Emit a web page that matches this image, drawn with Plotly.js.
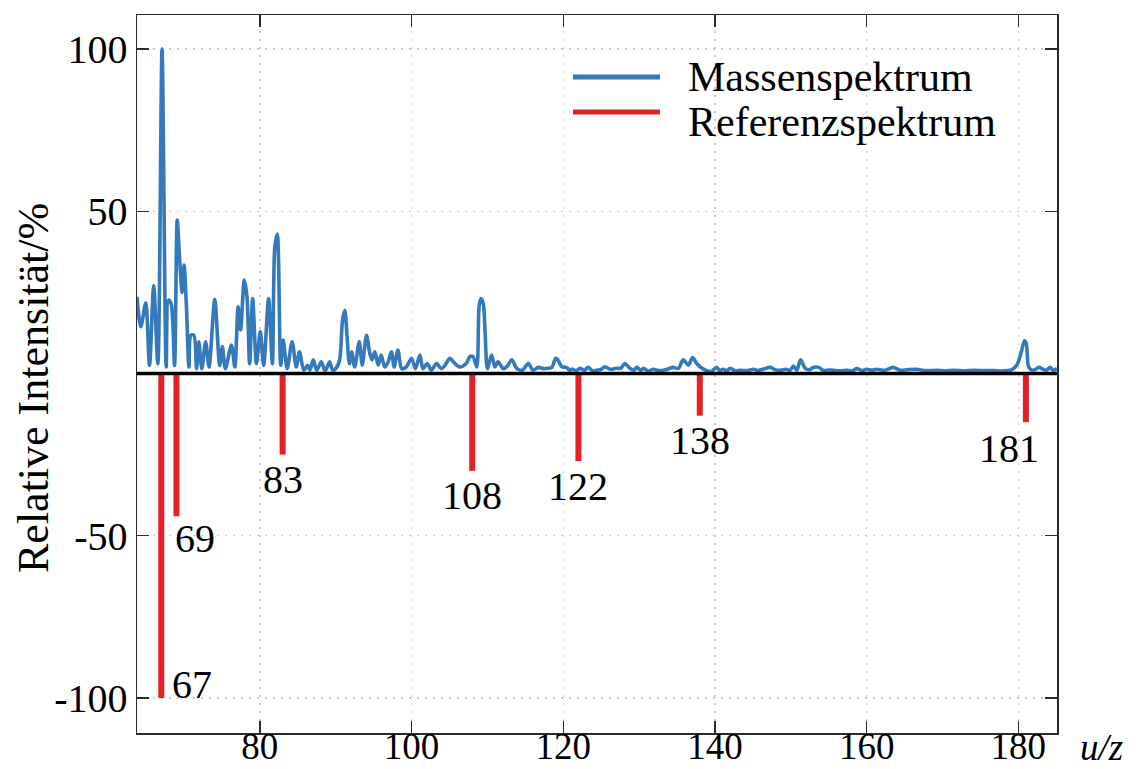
<!DOCTYPE html>
<html>
<head>
<meta charset="utf-8">
<script src="https://cdn.plot.ly/plotly-3.0.1.min.js"></script>
<style>
  html, body { margin: 0; padding: 0; background: #ffffff; }
  #chart { width: 1140px; height: 769px; }
</style>
</head>
<body>
<div id="chart"></div>
<script>
// Measured mass spectrum (m/z, relative intensity in %)
const mz = [
  63.8, 64.3, 64.95, 65.45, 66.0, 66.55, 67.1, 67.65, 67.95, 68.3,
  68.75, 69.1, 69.45, 69.75, 70.0, 70.3, 70.65, 70.9, 71.3, 71.65,
  71.95, 72.35, 72.85, 73.3, 74.05, 74.7, 75.05, 75.45, 76.25, 76.7,
  77.13, 77.45, 77.95, 78.3, 78.65, 79.05, 79.55, 80.05, 80.5, 81.15,
  81.65, 81.97, 82.3, 82.75, 83.07, 83.6, 84.25, 84.8, 85.22, 85.8,
  86.3, 86.6, 87.03, 87.5, 88.1, 88.6, 89.2, 89.6, 90.0, 90.5,
  90.9, 91.2, 91.5, 91.8, 92.1, 92.5, 93.1, 93.5, 94.06, 94.5,
  94.8, 95.16, 95.6, 96.0, 96.45, 96.9, 97.35, 97.7, 98.2, 98.7,
  99.3, 100.0, 100.5, 101.1, 101.5, 102.06, 102.6, 103.3, 103.9, 104.4,
  105.05, 105.7, 106.4, 107.2, 107.7, 108.1, 108.6, 108.9, 109.14, 109.45,
  109.7, 110.0, 110.55, 111.0, 111.4, 112.1, 112.6, 113.2, 113.9, 114.6,
  115.4, 116.0, 116.7, 117.4, 118.0, 118.5, 119.0, 119.3, 119.8, 120.4,
  120.9, 121.2, 121.7, 122.2, 122.8, 123.3, 123.9, 124.4, 125.0, 125.5,
  126.2, 127.0, 127.6, 128.1, 128.8, 129.3, 129.7, 130.2, 130.6, 131.2,
  131.9, 132.5, 133.2, 133.9, 134.5, 135.2, 135.8, 136.5, 137.05, 137.6,
  138.3, 138.9, 139.5, 140.2, 140.6, 141.1, 141.6, 142.0, 142.7, 143.3,
  144.2, 145.1, 145.6, 146.3, 147.3, 147.9, 148.6, 149.4, 149.9, 150.35,
  150.8, 151.3, 151.9, 152.5, 153.0, 153.7, 154.3, 155.0, 155.6, 156.5,
  157.4, 158.1, 158.7, 159.4, 160.0, 160.7, 161.3, 162.4, 163.5, 164.4,
  165.5, 166.6, 167.8, 169.3, 170.4, 171.5, 172.8, 174.1, 175.4, 176.8,
  178.0, 179.0, 179.8, 180.4, 180.8, 181.05, 181.35, 181.8, 182.2, 182.7,
  183.3, 183.7, 184.2, 184.6, 185.1
];
const intensity = [
  23.6, 14.4, 21.7, 2.5, 27.0, 3.0, 100, 2.0, 22.6, 21.5,
  2.5, 47.3, 34, 25, 33.4, 21.6, 2.0, 11.8, 11.8, 1.5,
  9.8, 1.5, 9.8, 2.0, 22.8, 2.5, 8.3, 1.5, 8.8, 2.0,
  20.6, 13.4, 28.8, 23.6, 3.0, 23.1, 3.0, 12.9, 2.5, 23.1,
  3.0, 39, 43, 2.5, 10.3, 1.5, 9.8, 2.0, 6.7, 1.0,
  2.5, 1.0, 4.2, 1.0, 3.6, 0.8, 3.6, 1.0, 1.5, 4.0,
  16.5, 19.5, 11.3, 3.0, 6.7, 2.0, 9.8, 2.6, 11.8, 6.2,
  4.2, 6.7, 2.6, 5.7, 2.0, 3.5, 6.7, 2.0, 7.2, 1.5,
  2.0, 4.7, 1.5, 5.7, 1.5, 3.1, 1.0, 3.1, 1.5, 2.5,
  4.7, 3.1, 2.0, 3.1, 5.2, 5.2, 2.0, 20.6, 23.1, 21.6,
  12.4, 1.5, 5.7, 2.0, 3.6, 1.5, 2.2, 4.2, 1.5, 1.0,
  3.1, 1.0, 1.9, 1.5, 1.6, 1.9, 4.7, 4.2, 2.1, 1.9,
  1.0, 1.4, 0.8, 1.6, 1.0, 1.9, 0.8, 1.0, 1.3, 2.1,
  1.3, 1.6, 1.6, 3.1, 1.6, 1.0, 1.9, 1.0, 1.6, 0.8,
  1.3, 0.9, 1.0, 1.5, 1.9, 1.6, 4.2, 2.6, 4.9, 3.1,
  1.6, 0.9, 0.6, 1.9, 1.0, 1.3, 0.8, 1.6, 0.8, 1.0,
  0.9, 1.3, 0.9, 1.3, 1.9, 1.2, 1.0, 1.3, 1.0, 2.3,
  1.0, 4.2, 1.6, 1.2, 1.9, 1.9, 0.9, 1.1, 1.0, 0.8,
  1.0, 0.8, 1.5, 0.9, 1.3, 1.0, 1.3, 1.0, 1.9, 1.0,
  1.2, 1.3, 0.9, 1.0, 0.8, 1.0, 0.8, 1.0, 0.9, 0.9,
  0.8, 1.0, 2.6, 6.7, 10.1, 9.3, 2.1, 1.0, 1.2, 1.9,
  1.3, 1.0, 1.9, 1.0, 1.5
];

// Reference spectrum lines (m/z and relative intensity in %), drawn downwards
const refMz = [67, 69, 83, 108, 122, 138, 181];
const refIntensity = [100, 44, 25, 30, 27, 13, 15];

// Axis ticks
const xTicks = [80, 100, 120, 140, 160, 180];
const yTicks = [-100, -50, 50, 100];
const yTickText = ['-100', '-50', '50', '100'];

const seriesNames = ['Massenspektrum', 'Referenzspektrum'];

const BLUE = '#3479bb';
const RED = '#e41f26';
const FONT = 'Liberation Serif';

// Stick lines for the reference spectrum: 0 -> -intensity per peak
const stickX = [];
const stickY = [];
refMz.forEach((m, i) => {
  stickX.push(m, m, null);
  stickY.push(0, -refIntensity[i], null);
});

const traces = [
  {
    x: mz, y: intensity, type: 'scatter', mode: 'lines',
    name: seriesNames[0],
    line: { color: BLUE, width: 3.6, shape: 'spline', smoothing: 0.8 },
    hoverinfo: 'x+y', showlegend: false
  },
  {
    x: stickX, y: stickY, type: 'scatter', mode: 'lines',
    name: seriesNames[1],
    line: { color: RED, width: 6 },
    connectgaps: false, showlegend: false
  }
];

// Peak labels for the reference lines
const labelStyle = {
  67:  { xanchor: 'left',   yanchor: 'middle', xshift: 9,   yshift: 13 },
  69:  { xanchor: 'left',   yanchor: 'middle', xshift: -3,  yshift: -22 },
  181: { xanchor: 'center', yanchor: 'middle', xshift: -17, yshift: -26 }
};
const annotations = refMz.map((m, i) => {
  const s = labelStyle[m] || { xanchor: 'center', yanchor: 'middle', xshift: 0, yshift: -25 };
  return {
    x: m, y: -refIntensity[i], xref: 'x', yref: 'y',
    text: String(m), showarrow: false,
    xanchor: s.xanchor, yanchor: s.yanchor, xshift: s.xshift, yshift: s.yshift,
    font: { family: FONT, size: 40, color: '#000' }
  };
});

// Legend text
annotations.push(
  { xref: 'paper', yref: 'paper', x: 0.5967, y: 0.9136, xanchor: 'left', yanchor: 'middle',
    text: seriesNames[0], showarrow: false, font: { family: FONT, size: 42, color: '#000' } },
  { xref: 'paper', yref: 'paper', x: 0.5967, y: 0.851, xanchor: 'left', yanchor: 'middle',
    text: seriesNames[1], showarrow: false, font: { family: FONT, size: 42, color: '#000' } }
);

// x-axis label to the right of the axis
annotations.push({
  xref: 'paper', yref: 'paper', x: 1, y: 0, xanchor: 'left', yanchor: 'middle',
  xshift: 21, yshift: -14, text: '<i>u/z</i>', showarrow: false,
  font: { family: FONT, size: 37, color: '#000' }
});

// y-axis title
annotations.push({
  xref: 'paper', yref: 'paper', x: 0, y: 0.4805, xanchor: 'center', yanchor: 'middle',
  xshift: -104, textangle: -90, text: 'Relative Intensität/%', showarrow: false,
  font: { family: FONT, size: 44, color: '#000' }
});

const shapes = [
  // legend background
  { type: 'rect', xref: 'paper', yref: 'paper', x0: 0.3837, x1: 0.997, y0: 0.784, y1: 0.997,
    fillcolor: '#ffffff', line: { width: 0 }, layer: 'between' },
  // legend handles
  { type: 'line', xref: 'paper', yref: 'paper', x0: 0.4739, x1: 0.5685, y0: 0.9136, y1: 0.9136,
    line: { color: BLUE, width: 5 } },
  { type: 'line', xref: 'paper', yref: 'paper', x0: 0.4739, x1: 0.5685, y0: 0.8649, y1: 0.8649,
    line: { color: RED, width: 5 } },
  // baseline at zero intensity
  { type: 'line', xref: 'paper', yref: 'y', x0: 0, x1: 1, y0: 0, y1: 0,
    line: { color: '#000000', width: 3.5 }, layer: 'above' }
];

const axisCommon = {
  showline: true, linecolor: '#2b2b2b', linewidth: 1.5, mirror: 'ticks',
  ticks: 'inside', ticklen: 12, tickwidth: 1.5, tickcolor: '#2b2b2b',
  showgrid: true, gridcolor: '#c8c8c8', gridwidth: 1.5, griddash: '2px,6px',
  zeroline: false,
  tickfont: { family: FONT, size: 40, color: '#000000' },
  automargin: false
};

const layout = {
  width: 1140, height: 769,
  margin: { l: 137, r: 83, t: 15, b: 36 },
  paper_bgcolor: '#ffffff', plot_bgcolor: '#ffffff',
  showlegend: false,
  font: { family: FONT },
  xaxis: Object.assign({}, axisCommon, {
    range: [63.8, 185.1], tickmode: 'array', tickvals: xTicks,
    ticktext: xTicks.map(String), ticklabelstandoff: -20,
    tickfont: { family: FONT, size: 37, color: '#000000' }
  }),
  yaxis: Object.assign({}, axisCommon, {
    range: [-110.8, 110.5], tickmode: 'array', tickvals: yTicks, ticktext: yTickText,
    ticklabelstandoff: 0
  }),
  annotations: annotations,
  shapes: shapes
};

Plotly.newPlot('chart', traces, layout, { displayModeBar: false, staticPlot: true });
</script>
</body>
</html>
